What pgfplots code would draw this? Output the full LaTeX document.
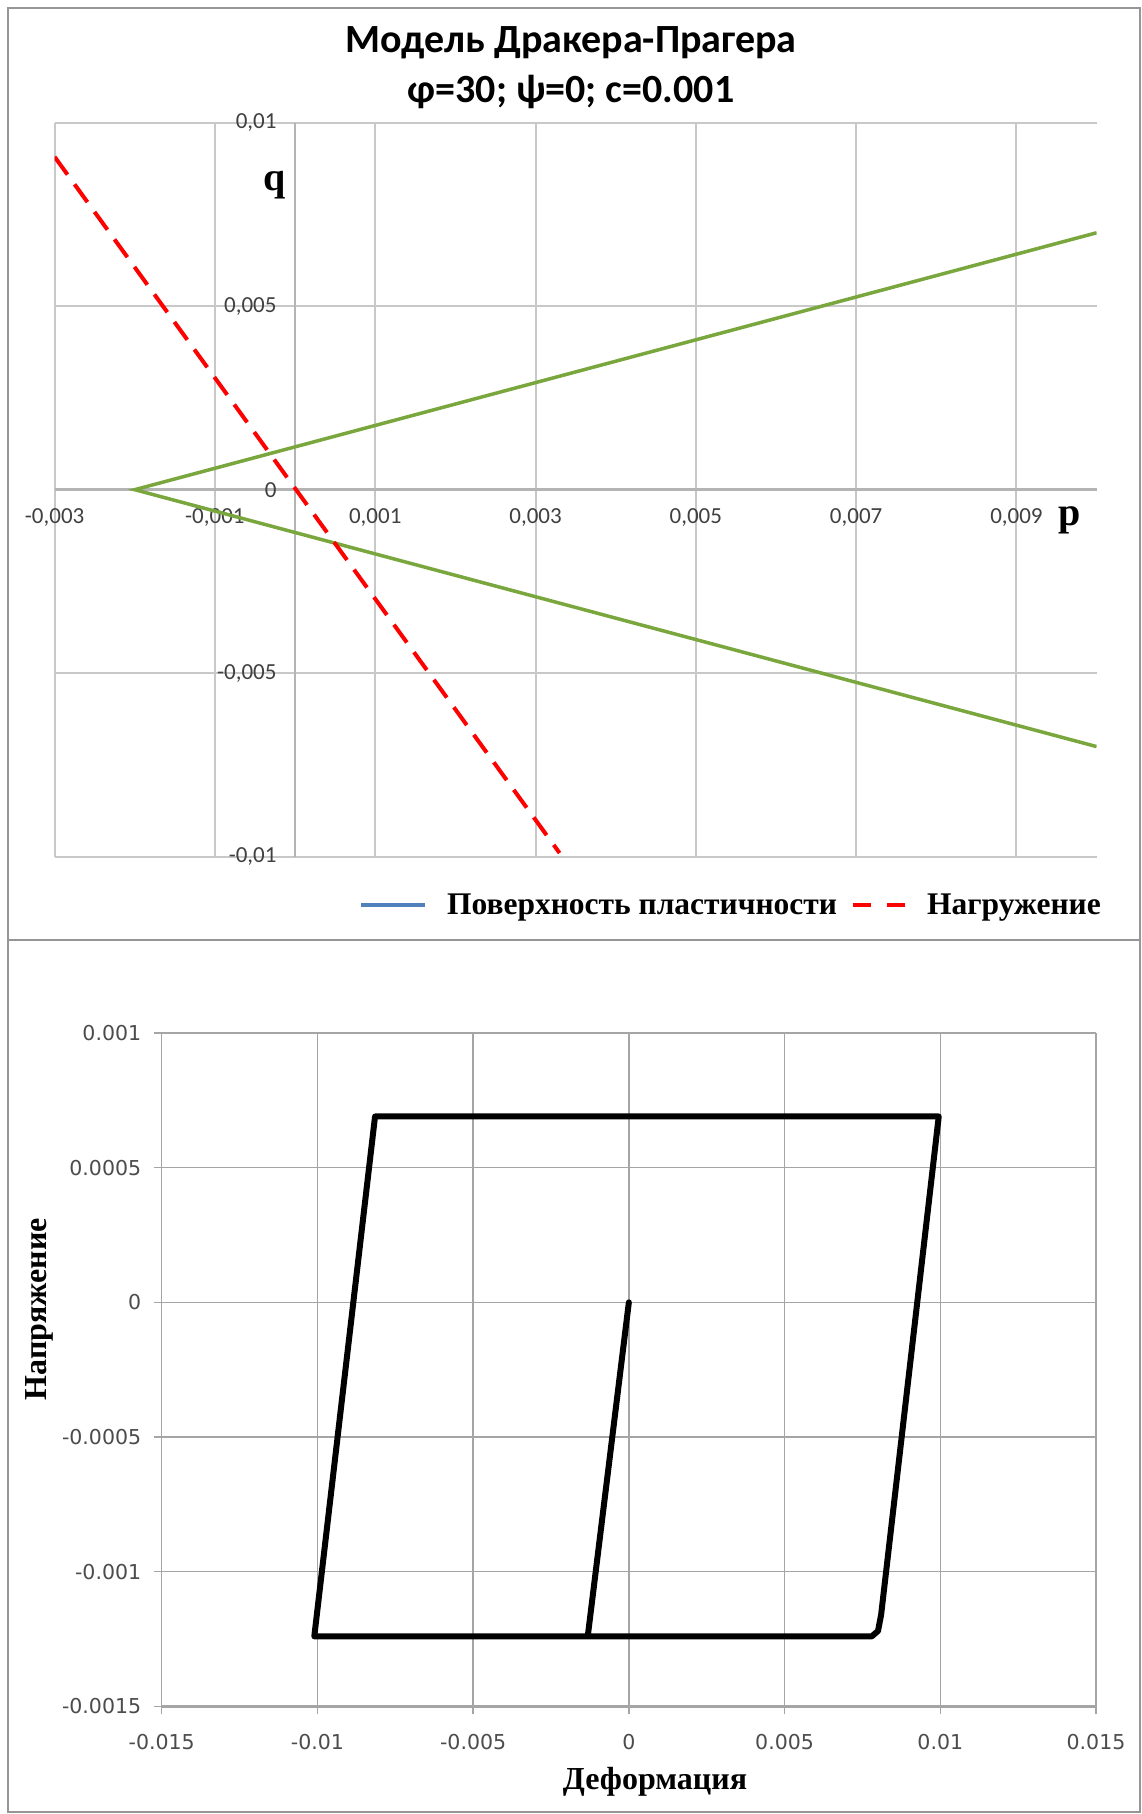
\documentclass[border=0pt]{standalone}
\usepackage{fontspec}
\setmainfont{Liberation Serif}
\newfontfamily\carlito{Carlito}
\newfontfamily\dejavu{DejaVu Sans}
\usepackage{pgfplots}
\pgfplotsset{compat=1.18}
\definecolor{dpgreen}{RGB}{122,166,62}
\definecolor{xlblue}{RGB}{79,129,189}
\definecolor{gridgray}{RGB}{200,200,200}
\definecolor{gridgray2}{RGB}{165,165,165}
\definecolor{framegray}{RGB}{150,150,150}
\begin{document}
\begin{tikzpicture}[x=1pt,y=1pt]
\useasboundingbox (0,0) rectangle (1142,1814);
\fill[white] (0,0) rectangle (1142,1814);
\draw[framegray, line width=2pt] (8,1806) rectangle (1140,874);
\draw[framegray, line width=2pt] (8,874) rectangle (1140,2);

% ---------- top chart ----------
\begin{axis}[
  at={(54.6pt,957.3pt)}, anchor=south west,
  scale only axis, width=1042pt, height=734pt,
  xmin=-0.003, xmax=0.01, ymin=-0.01, ymax=0.01,
  axis lines=middle,
  axis line style={draw=gridgray!90!black, line width=2.5pt, -},
  hide obscured x ticks=false, hide obscured y ticks=false,
  scaled ticks=false,
  xtick={-0.003,-0.001,0.001,0.003,0.005,0.007,0.009},
  xticklabels={{-0,003},{-0,001},{0,001},{0,003},{0,005},{0,007},{0,009}},
  ytick={-0.01,-0.005,0,0.005,0.01},
  yticklabels={{-0,01},{-0,005},{0},{0,005},{0,01}},
  major tick length=0pt,
  grid=major,
  grid style={gridgray, line width=2pt},
  xticklabel style={font=\carlito\fontsize{23}{23}\selectfont, text=black!75, yshift=-15pt},
  yticklabel style={font=\carlito\fontsize{23}{23}\selectfont, text=black!75, xshift=-15pt},
  legend style={at={(axis description cs:1.009,-0.0658)}, anchor=east, draw=none, fill=none,
    font=\bfseries\fontsize{31.5}{31.5}\selectfont,
    /tikz/every odd column/.append style={column sep=18pt},
    /tikz/every even column/.append style={column sep=12pt}},
  legend columns=2,
  legend image code/.code={\draw[#1] (0pt,0pt) -- (64pt,0pt);},
  clip=true,
]
\addplot[dpgreen, line width=3.5pt, forget plot] coordinates {(0.01,0.007) (-0.002,0) (0.01,-0.007)};
\addplot[red, line width=4pt, dash pattern=on 22pt off 12pt, forget plot] coordinates {(-0.003,0.00907) (0.0033,-0.0099)};
\addlegendimage{xlblue, line width=4pt}
\addlegendentry{Поверхность пластичности}
\addlegendimage{legend image code/.code={\draw[red, line width=4pt, dash pattern=on 18pt off 16pt] (0pt,0pt) -- (52pt,0pt);}}
\addlegendentry{Нагружение}
\end{axis}

% ---------- bottom chart ----------
\begin{axis}[
  at={(161.7pt,107.6pt)}, anchor=south west,
  scale only axis, width=934.3pt, height=673.4pt,
  xmin=-0.015, xmax=0.015, ymin=-0.0015, ymax=0.001,
  axis x line=bottom, axis y line=left,
  x axis line style={draw=gridgray2, line width=3pt, -},
  y axis line style={draw=gridgray2, line width=1.5pt, -},
  scaled ticks=false,
  xtick={-0.015,-0.01,-0.005,0,0.005,0.01,0.015},
  xticklabels={{-0.015},{-0.01},{-0.005},{0},{0.005},{0.01},{0.015}},
  ytick={-0.0015,-0.001,-0.0005,0,0.0005,0.001},
  yticklabels={{-0.0015},{-0.001},{-0.0005},{0},{0.0005},{0.001}},
  tick align=outside, major tick length=8pt,
  tick style={gridgray2, line width=1.5pt},
  grid=major,
  grid style={gridgray2, line width=1.5pt},
  xticklabel style={font=\dejavu\fontsize{20.5}{20.5}\selectfont, text=black!70, yshift=-16pt},
  yticklabel style={font=\dejavu\fontsize{20.5}{20.5}\selectfont, text=black!70, xshift=-9pt},
  xlabel={Деформация},
  ylabel={Напряжение},
  xlabel style={font=\bfseries\fontsize{32}{32}\selectfont, at={(axis description cs:0.528,-0.1123)}, anchor=center},
  ylabel style={font=\bfseries\fontsize{32}{32}\selectfont, at={(axis description cs:-0.1313,0.590)}, anchor=center},
  clip=false,
]
\addplot[black, line width=6pt, line join=round, line cap=round] coordinates {
(0,0) (-0.00132,-0.00124) (-0.0101,-0.00124) (-0.00815,0.00069) (0.00995,0.00069)
(0.0081,-0.00116) (0.00800,-0.00122) (0.0078,-0.00124) (-0.00132,-0.00124)};
\end{axis}

\node[font=\carlito\bfseries\fontsize{40}{40}\selectfont] at (571,1771) {Модель Дракера-Прагера};
\node[font=\carlito\bfseries\fontsize{40}{40}\selectfont] at (571,1722) {φ=30; ψ=0; c=0.001};
\node[font=\bfseries\fontsize{40}{40}\selectfont] at (275,1629) {q};
\node[font=\bfseries\fontsize{40}{40}\selectfont] at (1070,1294) {p};
\end{tikzpicture}
\end{document}
